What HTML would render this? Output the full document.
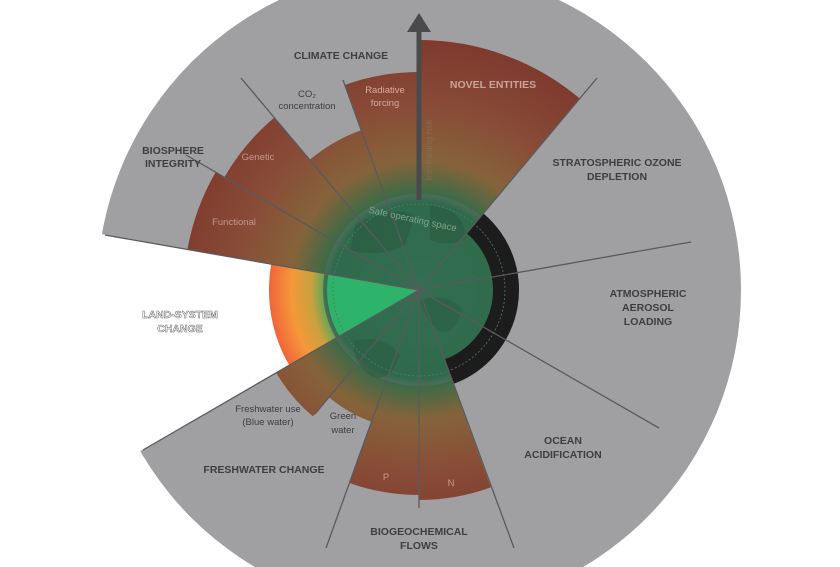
<!DOCTYPE html>
<html><head><meta charset="utf-8"><style>
html,body{margin:0;padding:0;background:#fff;width:840px;height:567px;overflow:hidden;}
svg{display:block;}
text{font-family:"Liberation Sans",sans-serif;}
</style></head><body>
<svg width="840" height="567" viewBox="0 0 840 567" xmlns="http://www.w3.org/2000/svg">
<defs>
<radialGradient id="sg" gradientUnits="userSpaceOnUse" cx="419" cy="290" r="250">
<stop offset="0" stop-color="#2f6b4c"/>
<stop offset="0.38" stop-color="#3a6b48"/>
<stop offset="0.52" stop-color="#86633a"/>
<stop offset="0.75" stop-color="#884a37"/>
<stop offset="1" stop-color="#7f3a2d"/>
</radialGradient>
<radialGradient id="og" gradientUnits="userSpaceOnUse" cx="419" cy="290" r="150">
<stop offset="0" stop-color="#2fae66"/>
<stop offset="0.6" stop-color="#3aa860"/>
<stop offset="0.72" stop-color="#c9a13e"/>
<stop offset="0.85" stop-color="#f5983a"/>
<stop offset="1" stop-color="#f0653a"/>
</radialGradient>
<radialGradient id="dg" gradientUnits="userSpaceOnUse" cx="419" cy="290" r="98">
<stop offset="0" stop-color="#336e50"/>
<stop offset="0.9" stop-color="#2f6a4b"/>
<stop offset="1" stop-color="#556e5e"/>
</radialGradient>
</defs>
<circle cx="419" cy="290" r="322" fill="#a09fa1"/>
<path d="M419,290 L130,457 A334,334 0 0 1 90,232 Z" fill="#fff"/>
<path d="M419,290 L419,40 A250,250 0 0 1 579.8,98.5 Z" fill="url(#sg)"/>
<path d="M419,290 L490.8,487.4 A210,210 0 0 1 419,500 Z" fill="url(#sg)"/>
<path d="M419,290 L419,495 A205,205 0 0 1 348.9,482.7 Z" fill="url(#sg)"/>
<path d="M419,290 L371.1,421.6 A140,140 0 0 1 329,397.2 Z" fill="url(#sg)"/>
<path d="M419,290 L312.9,416.4 A165,165 0 0 1 276.1,372.5 Z" fill="url(#sg)"/>
<path d="M419,290 L289.1,365 A150,150 0 0 1 271.3,263.9 Z" fill="url(#og)"/>
<path d="M419,290 L187.5,249.1 A235,235 0 0 1 215.5,172.5 Z" fill="url(#sg)"/>
<path d="M419,290 L224.2,177.5 A225,225 0 0 1 274.3,117.6 Z" fill="url(#sg)"/>
<path d="M419,290 L309.7,159.8 A170,170 0 0 1 360.9,130.2 Z" fill="url(#sg)"/>
<path d="M419,290 L344.4,85.1 A218,218 0 0 1 419,72 Z" fill="url(#sg)"/>
<circle cx="419" cy="290" r="96" fill="url(#dg)"/>
<path d="M483.3,213.4 A100,100 0 0 1 453.2,384 L444.3,359.5 A74,74 0 0 0 466.6,233.3 Z" fill="#1c1c1c"/>
<path d="M430,205 Q465,210 466,238 Q450,248 430,240 Z" fill="#2a5a40" opacity="0.6"/>
<path d="M355,225 Q390,205 415,215 L405,245 Q380,258 350,250 Z" fill="#2a5a40" opacity="0.6"/>
<path d="M420,300 Q450,292 462,310 Q455,335 440,332 Q425,320 420,300 Z" fill="#2a5a40" opacity="0.5"/>
<path d="M355,340 Q385,335 400,355 Q390,385 370,375 Q350,360 355,340 Z" fill="#2a5a40" opacity="0.5"/>
<path d="M419,290 L339.3,336 A92,92 0 0 1 328.4,274 Z" fill="#2db36a"/>
<circle cx="419" cy="290" r="86" fill="none" stroke="#557a62" stroke-width="0.8" stroke-dasharray="2,2"/>
<g stroke="#5a5a5c" stroke-width="1.3">
<line x1="419" y1="290" x2="597" y2="78"/>
<line x1="419" y1="290" x2="691" y2="242"/>
<line x1="419" y1="290" x2="659" y2="428"/>
<line x1="419" y1="290" x2="514" y2="548"/>
<line x1="419" y1="290" x2="419" y2="508"/>
<line x1="419" y1="290" x2="326" y2="548"/>
<line x1="419" y1="290" x2="315" y2="414"/>
<line x1="419" y1="290" x2="143" y2="450"/>
<line x1="419" y1="290" x2="105" y2="235"/>
<line x1="419" y1="290" x2="186" y2="155"/>
<line x1="419" y1="290" x2="241" y2="78"/>
<line x1="419" y1="290" x2="343" y2="80"/>
</g>
<line x1="419" y1="200" x2="419" y2="30" stroke="#4a4a4c" stroke-width="5"/>
<polygon points="407,32 419,13 431,32" fill="#4a4a4c"/>
<g fill="#3e3e40" font-size="10.5" font-weight="bold" text-anchor="middle">
<text x="341" y="59">CLIMATE CHANGE</text>
<text x="493" y="88" fill="#c9a49a">NOVEL ENTITIES</text>
<text x="173" y="154">BIOSPHERE</text>
<text x="173" y="167">INTEGRITY</text>
<text x="617" y="166">STRATOSPHERIC OZONE</text>
<text x="617" y="180">DEPLETION</text>
<text x="648" y="297">ATMOSPHERIC</text>
<text x="648" y="311">AEROSOL</text>
<text x="648" y="325">LOADING</text>
<text x="563" y="444">OCEAN</text>
<text x="563" y="458">ACIDIFICATION</text>
<text x="419" y="535">BIOGEOCHEMICAL</text>
<text x="419" y="549">FLOWS</text>
<text x="264" y="473">FRESHWATER CHANGE</text>
<text x="180" y="318" fill="#fff" stroke="#666" stroke-width="0.5">LAND-SYSTEM</text>
<text x="180" y="332" fill="#fff" stroke="#666" stroke-width="0.5">CHANGE</text>
</g>
<g fill="#3e3e40" font-size="9.5" text-anchor="middle">
<text x="307" y="97">CO₂</text>
<text x="307" y="109">concentration</text>
<text x="385" y="93" fill="#d8aa9c">Radiative</text>
<text x="385" y="106" fill="#d8aa9c">forcing</text>
<text x="258" y="160" fill="#c4988a">Genetic</text>
<text x="234" y="225" fill="#c4988a">Functional</text>
<text x="386" y="480" fill="#c4988a">P</text>
<text x="451" y="486" fill="#c4988a">N</text>
<text x="268" y="412">Freshwater use</text>
<text x="268" y="425">(Blue water)</text>
<text x="343" y="419">Green</text>
<text x="343" y="433">water</text>
<text x="432" y="150" fill="#8a6a50" transform="rotate(-90 432 150)">Increasing risk</text>
<text x="412" y="222" fill="#7fa58c" transform="rotate(12 412 222)">Safe operating space</text>
</g>
</svg>
</body></html>
